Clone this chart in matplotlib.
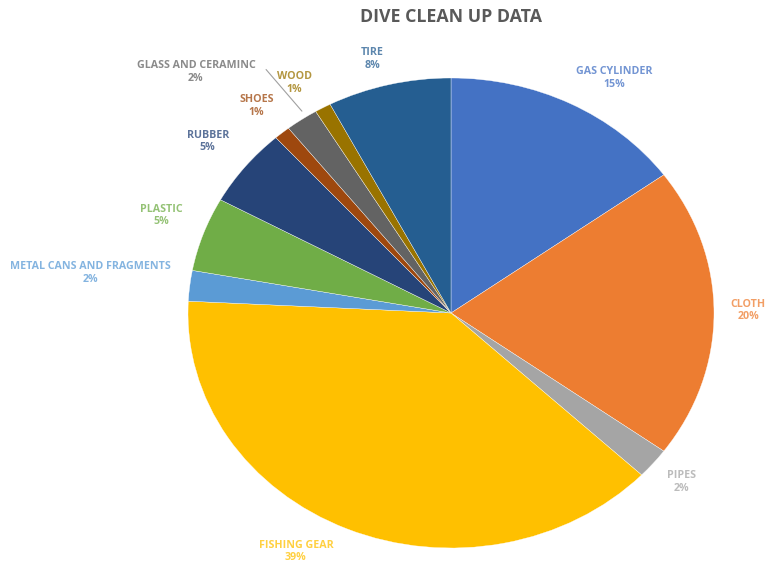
import matplotlib
matplotlib.use('Agg')
import matplotlib.pyplot as plt
from matplotlib.colors import to_rgb

# ---- data ----
categories = ['GAS CYLINDER', 'CLOTH', 'PIPES', 'FISHING GEAR',
              'METAL CANS AND FRAGMENTS', 'PLASTIC', 'RUBBER', 'SHOES',
              'GLASS AND CERAMINC', 'WOOD', 'TIRE']
shares = [15, 20, 2.1, 38.7, 2.1, 5.1, 5.4, 1, 2, 1, 7.6]
colors = ['#4472C4', '#ED7D31', '#A5A5A5', '#FFC000', '#5B9BD5', '#70AD47',
          '#264478', '#9E480E', '#636363', '#997300', '#255E91']

# label anchor points (axes data units, pie radius = 1)
label_pos = [(0.62, 1.00), (1.13, 0.01), (0.875, -0.72), (-0.59, -1.015),
             (-1.37, 0.17), (-1.10, 0.415), (-0.925, 0.73), (-0.74, 0.88),
             (-0.97, 1.025), (-0.595, 0.98), (-0.30, 1.08)]

plt.rcParams['font.family'] = ['Open Sans', 'DejaVu Sans']

fig = plt.figure(figsize=(7.65, 5.62), dpi=100)
ax = fig.add_axes([188 / 765, 14 / 562, 526 / 765, 470 / 562])

ax.pie(shares, colors=colors, startangle=90, counterclock=False,
       wedgeprops=dict(edgecolor='white', linewidth=0.25))
ax.set_aspect('auto')
ax.set_xlim(-1, 1)
ax.set_ylim(-1, 1)
ax.axis('off')


def lighten(c, amt=0.25):
    r, g, b = to_rgb(c)
    return (r + (1 - r) * amt, g + (1 - g) * amt, b + (1 - b) * amt)


total = sum(shares)
for name, val, col, (lx, ly) in zip(categories, shares, colors, label_pos):
    ax.text(lx, ly, f'{name}\n{round(100 * val / total)}%', ha='center',
            va='center', fontsize=7.7, fontweight='bold', color=lighten(col),
            linespacing=1.2, clip_on=False)

# leader line for glass label
ax.annotate('', xy=(-0.56, 0.85), xytext=(-0.71, 1.045),
            arrowprops=dict(arrowstyle='-', color='#A0A0A0', lw=0.8),
            annotation_clip=False)

fig.text(451 / 765, 1 - 17 / 562, 'DIVE CLEAN UP DATA', ha='center',
         va='center', fontsize=12.8, fontweight='bold', color='#595959')

fig.savefig('out.png', dpi=100)
